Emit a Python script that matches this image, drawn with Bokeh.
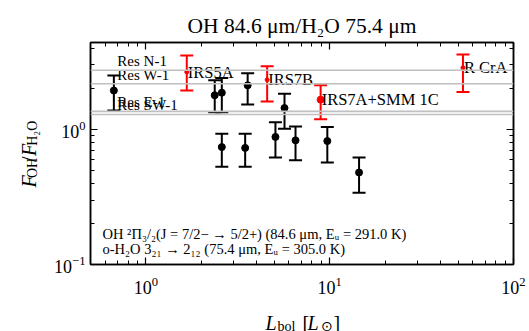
import math
from bokeh.plotting import figure
from bokeh.layouts import column, row
from bokeh.models import (LogAxis, Whisker, ColumnDataSource, Label, TeeHead, Span,
                          FixedTicker, CustomJSTickFormatter, LogTickFormatter)
from bokeh.embed import file_html
from bokeh.resources import INLINE
from bokeh.core.properties import value

# ---------------- data ----------------
black_lbol  = [0.67, 2.37, 2.59, 2.59, 3.47, 3.58, 5.07, 5.68, 6.52, 9.71, 14.45]
black_ratio = [1.94, 1.79, 1.87, 0.74, 0.73, 2.12, 0.88, 1.44, 0.83, 0.82, 0.48]
black_upper = [2.51, 2.31, 2.40, 0.93, 0.93, 2.61, 1.13, 1.84, 1.05, 1.04, 0.62]
black_lower = [1.38, 1.34, 1.34, 0.53, 0.53, 1.53, 0.62, 1.01, 0.59, 0.57, 0.34]

red_names = ["IRS5A", "IRS7B", "IRS7A+SMM 1C", "R CrA"]
red_lbol  = [1.67, 4.57, 8.93, 53.1]
red_ratio = [2.66, 2.33, 1.66, 2.86]
red_upper = [3.53, 2.93, 2.12, 3.59]
red_lower = [1.94, 1.61, 1.19, 1.89]
red_size  = [4, 4, 7, 4]

res_names = ["Res N-1", "Res W-1", "Res E-1", "Res SW-1"]
res_ratio = [2.74, 2.18, 1.36, 1.29]
res_label_lbol = 0.7

x_major = [1, 10, 100]
x_minor = [0.5, 0.6, 0.7, 0.8, 0.9, 2, 3, 4, 5, 6, 7, 8, 9, 20, 30, 40, 50, 60, 70, 80, 90]
y_major = [0.1, 1]
y_minor = [0.2, 0.3, 0.4, 0.5, 0.6, 0.7, 0.8, 0.9, 2, 3, 4]

title_text = "OH 84.6 \u03bcm/H\u2082O 75.4 \u03bcm"
note1 = "OH \u00b2\u03a0\u2083/\u2082(J = 7/2\u2212 \u2192 5/2+) (84.6 \u03bcm, E\u1d64 = 291.0 K)"
note2 = "o-H\u2082O 3\u2082\u2081 \u2192 2\u2081\u2082 (75.4 \u03bcm, E\u1d64 = 305.0 K)"

XR = (0.5, 100)
YR = (0.1, 4.4)
SERIF = "Liberation Serif"

TOTAL_W = 529
YLAB_W = 48
XLAB_H = 28
MAIN_H = 303
MAIN_W = TOTAL_W - YLAB_W


def text_fig(w, h):
    f = figure(width=w, height=h, x_range=(0, w), y_range=(0, h),
               x_axis_location=None, y_axis_location=None,
               output_backend="svg", toolbar_location=None,
               min_border_left=0, min_border_right=0, min_border_top=0, min_border_bottom=0)
    f.grid.visible = False
    f.outline_line_color = None
    f.background_fill_color = "white"
    f.border_fill_color = "white"
    return f


p = figure(width=MAIN_W, height=MAIN_H,
           x_axis_type="log", y_axis_type="log",
           x_range=XR, y_range=YR, output_backend="svg", toolbar_location=None,
           min_border_left=42, min_border_right=16, min_border_top=42, min_border_bottom=39)
p.grid.visible = False
p.outline_line_color = "black"
p.outline_line_width = 1.5
p.background_fill_color = "white"
p.border_fill_color = "white"

p.title.text = title_text
p.title.align = "center"
p.title.text_font = SERIF
p.title.text_font_size = "21.5px"
p.title.text_font_style = "normal"
p.title.text_color = "black"
p.title.standoff = 9

blank = CustomJSTickFormatter(code="return ''")


def style_axis(ax, major, minor, labels=True):
    ax.ticker = FixedTicker(ticks=major, minor_ticks=minor)
    ax.axis_line_color = "black"
    ax.axis_line_width = 1.5
    ax.major_tick_in = 7
    ax.major_tick_out = 0
    ax.minor_tick_in = 4
    ax.minor_tick_out = 0
    ax.major_tick_line_width = 1.2
    ax.minor_tick_line_width = 1
    ax.major_label_text_font = SERIF
    ax.major_label_text_color = "black"
    if labels:
        ax.formatter = LogTickFormatter()
        ax.major_label_text_font_size = "18px"
    else:
        ax.formatter = blank
        ax.major_label_text_font_size = "1px"
        ax.major_label_standoff = 0


style_axis(p.xaxis[0], x_major, x_minor)
style_axis(p.yaxis[0], y_major, y_minor)
p.xaxis[0].major_label_standoff = 12
p.yaxis[0].major_label_standoff = 5

top = LogAxis()
right = LogAxis()
style_axis(top, x_major, x_minor, False)
style_axis(right, y_major, y_minor, False)
p.add_layout(top, "above")
p.add_layout(right, "right")

# reference lines
for r in res_ratio:
    p.add_layout(Span(location=r, dimension="width", line_color="#c0c0c0", line_width=1.6))
res_src = ColumnDataSource(dict(x=[res_label_lbol] * len(res_ratio), y=res_ratio, t=res_names))
p.text(x="x", y="y", text="t", source=res_src, text_font=value(SERIF), text_font_size="15px",
       text_baseline="bottom", text_align="left", text_color="black", y_offset=-1)

# black points
bsrc = ColumnDataSource(dict(x=black_lbol, y=black_ratio, up=black_upper, lo=black_lower))
p.add_layout(Whisker(source=bsrc, base="x", upper="up", lower="lo", dimension="height",
                     line_color="black", line_width=2,
                     upper_head=TeeHead(size=13, line_color="black", line_width=2),
                     lower_head=TeeHead(size=13, line_color="black", line_width=2)))
p.scatter(x="x", y="y", source=bsrc, size=7, color="black")

# red points
rsrc = ColumnDataSource(dict(x=red_lbol, y=red_ratio, up=red_upper, lo=red_lower, t=red_names, s=red_size))
p.add_layout(Whisker(source=rsrc, base="x", upper="up", lower="lo", dimension="height",
                     line_color="red", line_width=2,
                     upper_head=TeeHead(size=13, line_color="red", line_width=2),
                     lower_head=TeeHead(size=13, line_color="red", line_width=2)))
p.scatter(x="x", y="y", source=rsrc, size="s", color="red")
p.text(x="x", y="y", text="t", source=rsrc, text_font=value(SERIF), text_font_size="16.5px",
       text_baseline="alphabetic", text_align="left", text_color="black", x_offset=1)

# notes inside the frame
p.add_layout(Label(x=XR[0], y=YR[0], x_offset=12, y_offset=31, text=note1, text_baseline="alphabetic",
                   text_font=SERIF, text_font_size="14.5px", text_color="black"))
p.add_layout(Label(x=XR[0], y=YR[0], x_offset=12, y_offset=16, text=note2, text_baseline="alphabetic",
                   text_font=SERIF, text_font_size="14.5px", text_color="black"))

# ---- y label strip (rotated pieces) ----
yf = text_fig(YLAB_W, MAIN_H)
yl_text = ["F", "OH", "/", "F", "H\u2082O"]
yl_along = [-43, -30, -8, 0, 14]
yl_across = [0, 4, 0, 0, 4]
yl_size = ["20px", "14px", "20px", "20px", "14px"]
yl_style = ["italic", "normal", "normal", "italic", "normal"]
for t, al, ac, sz, st in zip(yl_text, yl_along, yl_across, yl_size, yl_style):
    yf.add_layout(Label(x=28 + ac, y=148 + al, text=t, angle=math.pi / 2, text_baseline="alphabetic",
                        text_align="left", text_font=SERIF, text_font_size=sz,
                        text_font_style=st, text_color="black"))

# ---- x label strip ----
xf = text_fig(TOTAL_W, XLAB_H)
xl_text = ["L", "bol", "[", "L", "\u2299", "]"]
xl_dx = [-36, -24, 1, 6, 19, 32]
xl_dy = [0, -4, 0, 0, -4, 0]
xl_size = ["20px", "14px", "20px", "20px", "14px", "20px"]
xl_style = ["italic", "normal", "normal", "italic", "normal", "normal"]
for t, dx, dy, sz, st in zip(xl_text, xl_dx, xl_dy, xl_size, xl_style):
    xf.add_layout(Label(x=301 + dx, y=9 + dy, text=t, text_baseline="alphabetic", text_align="left",
                        text_font=SERIF, text_font_size=sz, text_font_style=st, text_color="black"))

layout = column(row(yf, p), xf)
open("out.html", "w").write(file_html(layout, INLINE))
